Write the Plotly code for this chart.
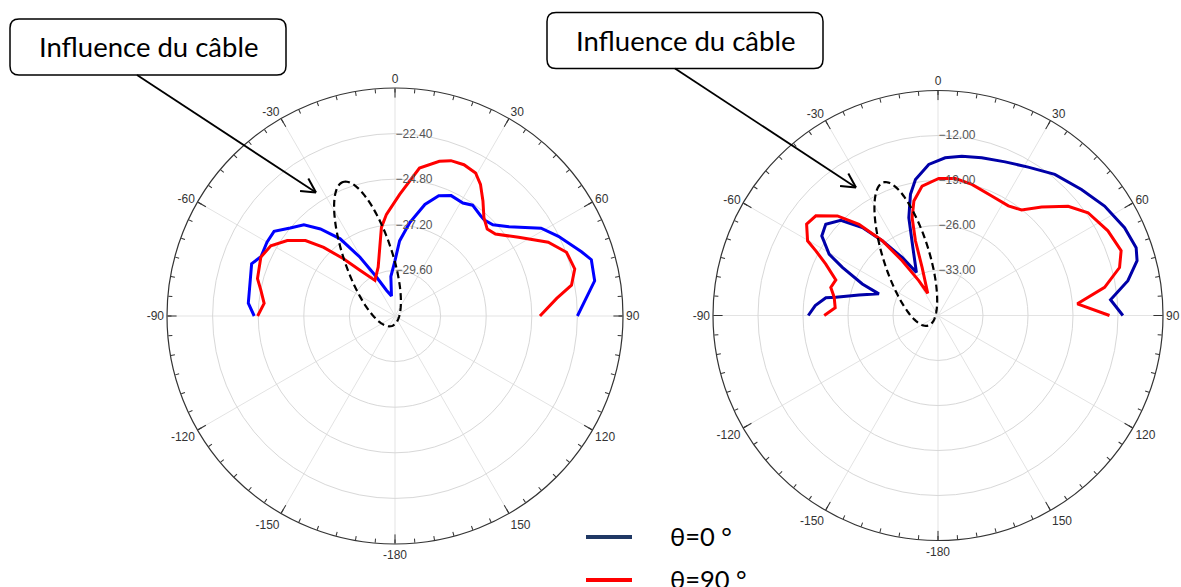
import math
import plotly.graph_objects as go

W, H = 1181, 587

# ---------------- data ----------------
# Left pattern (dB), theta in degrees (0 = top, clockwise)
left_blue_theta = [-90, -85, -76, -70, -66, -60, -55, -50, -45, -40.6, -35.4, -30.8, -25.4, -18.4, -10,
                   -6, 0, 3.5, 9, 15, 20, 25, 31, 35, 40.5, 43, 47, 52, 59, 64, 71, 74, 80, 90]
left_blue_r = [-24.59, -24.25, -24.15, -23.97, -24.29, -24.22, -24.23, -24.80, -25.22, -25.97, -27.02,
               -28.40, -29.73, -30.57, -30.93, -29.91, -29.08, -28.04, -27.02, -25.92, -25.27, -25.01,
               -25.06, -24.88, -25.06, -25.10, -24.96, -24.38, -23.03, -22.43, -21.62, -21.25, -21.33, -22.40]

left_red_theta = [-90, -84.5, -79.1, -74.8, -66.3, -60.5, -55, -49.9, -46.1, -42, -37.5, -29.4,
                  -19, -12.5, -8.7, -4.8, 2.2, 9.4, 16, 19.8, 24.5, 29.4, 33, 37.4, 42.1, 46.7, 50.8,
                  57.5, 64.3, 69.6, 75.3, 80.1, 83.8, 90]
left_red_r = [-24.77, -25.08, -24.81, -24.50, -24.29, -24.49, -25.08, -25.84, -26.79, -27.95, -28.97, -29.85,
              -29.28, -28.30, -27.28, -26.63, -25.59, -24.11, -23.53, -23.31, -23.25, -23.36, -23.74,
              -24.38, -25.02, -25.33, -25.18, -24.29, -23.05, -22.37, -22.22, -22.57, -23.44, -24.37]

# Right pattern (dB)
right_blue_theta = [-90, -85.4, -81, -79.9, -75.4, -69.9, -67.4, -63.3, -60.6, -55.6, -50.9, -45.6, -40.7,
                    -36.7, -31.7, -26.6, -20.3, -16.6, -12.8, -9.4, -3.5, 2.6, 8.5, 15.5, 23.6, 31.3,
                    39.6, 48.7, 56.7, 64.8, 71.1, 74.6, 79.6, 84.8, 90]
right_blue_r = [-19.82, -20.84, -22.34, -23.85, -27.30, -30.21, -27.25, -23.35, -20.56, -18.09, -17.50,
                -18.83, -21.96, -25.50, -29.39, -32.50, -28.73, -24.11, -20.67, -18.54, -16.46, -15.45,
                -14.94, -14.55, -13.92, -12.99, -11.50, -10.30, -9.00, -7.93, -7.42, -7.88, -9.97,
                -13.05, -11.24]

right_red_theta = [-90, -85.7, -80, -75.3, -70.8, -65.4, -62.1, -60.2, -55.2, -50.8, -45.3, -40.9, -36.7,
                   -33.2, -28.9, -24.8, -18.3, -16.8, -14.8, -11.9, -7, 0.3, 7.2, 14.5, 24.2, 32.7, 38.4,
                   43.7, 50, 55.6, 63.5, 70.5, 75.2, 80.4, 85.2, 90]
right_red_r = [-22.30, -23.96, -23.60, -22.76, -23.17, -20.80, -18.50, -16.62, -15.11, -15.48, -17.99,
               -21.23, -25.50, -29.82, -33.81, -36.19, -32.12, -27.86, -24.25, -21.80, -19.71, -18.67,
               -18.50, -18.94, -19.62, -19.74, -19.06, -16.66, -13.58, -11.71, -10.47, -9.78, -10.79,
               -13.72, -18.24, -13.32]

left_rticks = [-29.6, -27.2, -24.8, -22.4]
left_rrange = [-32, -20]
right_rticks = [-33, -26, -19, -12]
right_rrange = [-40, -5]

angle_tickvals = [0, 30, 60, 90, 120, 150, 180, 210, 240, 270, 300, 330]
angle_ticktext = ["0", "30", "60", "90", "120", "150", "-180", "-150", "-120", "-90", "-60", "-30"]
minor_tickvals = list(range(0, 360, 5))

legend_labels = ["θ=0 °", "θ=90 °"]
legend_colors = ["#1F3864", "#FF0000"]
box_text = "Influence du câble"

# ---------------- helpers ----------------
def px(x):
    return x / W


def py(y):
    return 1 - y / H


def dom(cx, cy, rad):
    return dict(x=[px(cx - rad), px(cx + rad)], y=[py(cy + rad), py(cy - rad)])


LEFT = dict(cx=395, cy=316, rad=228)
RIGHT = dict(cx=938, cy=315.5, rad=225)

fig = go.Figure()

fig.add_trace(go.Scatterpolar(theta=left_blue_theta, r=left_blue_r, mode="lines",
                              line=dict(color="#0000FF", width=3), subplot="polar", showlegend=False))
fig.add_trace(go.Scatterpolar(theta=left_red_theta, r=left_red_r, mode="lines",
                              line=dict(color="#FF0000", width=3), subplot="polar", showlegend=False))
fig.add_trace(go.Scatterpolar(theta=right_blue_theta, r=right_blue_r, mode="lines",
                              line=dict(color="#0000A8", width=3), subplot="polar2", showlegend=False))
fig.add_trace(go.Scatterpolar(theta=right_red_theta, r=right_red_r, mode="lines",
                              line=dict(color="#FF0000", width=3), subplot="polar2", showlegend=False))
# empty traces to instantiate the minor-tick overlays
fig.add_trace(go.Scatterpolar(theta=[], r=[], subplot="polar3", showlegend=False))
fig.add_trace(go.Scatterpolar(theta=[], r=[], subplot="polar4", showlegend=False))

tickfont = dict(family="Liberation Sans, Arial, sans-serif", size=12, color="#333333")
rfont = dict(family="Liberation Sans, Arial, sans-serif", size=12, color="#555555")


def main_polar(d, rticks, rrange):
    return dict(
        domain=dom(d["cx"], d["cy"], d["rad"]),
        bgcolor="white",
        angularaxis=dict(direction="clockwise", rotation=90, tickmode="array",
                         tickvals=angle_tickvals, ticktext=angle_ticktext,
                         ticks="inside", ticklen=9, tickcolor="#333333", tickwidth=1,
                         showline=True, linecolor="#333333", linewidth=1.2,
                         showgrid=True, gridcolor="#E3E3E3", gridwidth=1,
                         tickfont=tickfont),
        radialaxis=dict(range=rrange, tickmode="array", tickvals=rticks, tickformat=".2f",
                        angle=90, side="clockwise", tickangle=90, showline=False, ticks="",
                        showgrid=True, gridcolor="#D8D8D8", gridwidth=1, tickfont=rfont),
    )


def minor_polar(d, rrange):
    return dict(
        domain=dom(d["cx"], d["cy"], d["rad"]),
        bgcolor="rgba(0,0,0,0)",
        angularaxis=dict(direction="clockwise", rotation=90, tickmode="array",
                         tickvals=minor_tickvals, ticks="inside", ticklen=4,
                         tickcolor="#333333", tickwidth=1, showticklabels=False,
                         showline=False, showgrid=False),
        radialaxis=dict(range=rrange, visible=False, showgrid=False),
    )


shapes = []
annotations = []


def ellipse_path(cx, cy, a, b, tilt_deg, n=120):
    phi = math.radians(tilt_deg)
    ux, uy = -math.sin(phi), -math.cos(phi)
    vx, vy = math.cos(phi), -math.sin(phi)
    pts = []
    for i in range(n + 1):
        t = 2 * math.pi * i / n
        x = cx + a * math.cos(t) * ux + b * math.sin(t) * vx
        y = cy + a * math.cos(t) * uy + b * math.sin(t) * vy
        pts.append(f"{px(x):.5f},{py(y):.5f}")
    return "M " + " L ".join(pts) + " Z"


def rounded_box(x0, y0, x1, y1, r):
    p = (f"M {px(x0 + r)},{py(y0)} L {px(x1 - r)},{py(y0)} Q {px(x1)},{py(y0)} {px(x1)},{py(y0 + r)} "
         f"L {px(x1)},{py(y1 - r)} Q {px(x1)},{py(y1)} {px(x1 - r)},{py(y1)} "
         f"L {px(x0 + r)},{py(y1)} Q {px(x0)},{py(y1)} {px(x0)},{py(y1 - r)} "
         f"L {px(x0)},{py(y0 + r)} Q {px(x0)},{py(y0)} {px(x0 + r)},{py(y0)} Z")
    return p


def arrow(x0, y0, x1, y1, head=16, spread=28):
    ang = math.atan2(y1 - y0, x1 - x0)
    segs = [dict(type="line", xref="paper", yref="paper", x0=px(x0), y0=py(y0), x1=px(x1), y1=py(y1),
                 line=dict(color="black", width=1.8))]
    for s in (-1, 1):
        a2 = ang + math.pi + s * math.radians(spread)
        segs.append(dict(type="line", xref="paper", yref="paper", x0=px(x1), y0=py(y1),
                         x1=px(x1 + head * math.cos(a2)), y1=py(y1 + head * math.sin(a2)),
                         line=dict(color="black", width=2)))
    return segs


callouts = [
    dict(box=(10, 19, 286, 75), arrow=(137, 75, 316, 192.5), ell=(367.5, 254, 76, 24, 18.8)),
    dict(box=(547, 12.5, 823, 68.5), arrow=(675, 68.5, 856, 187.5), ell=(905.8, 254, 75, 23, 17.4)),
]
for c in callouts:
    x0, y0, x1, y1 = c["box"]
    shapes.append(dict(type="path", xref="paper", yref="paper", path=rounded_box(x0, y0, x1, y1, 9),
                       line=dict(color="black", width=1.5), fillcolor="white"))
    annotations.append(dict(x=px((x0 + x1) / 2), y=py((y0 + y1) / 2), xref="paper", yref="paper",
                            text=box_text, showarrow=False, xanchor="center", yanchor="middle",
                            font=dict(family="Lato, sans-serif", size=27.5, color="black")))
    shapes.extend(arrow(*c["arrow"]))
    shapes.append(dict(type="path", xref="paper", yref="paper", path=ellipse_path(*c["ell"]),
                       line=dict(color="black", width=2.2, dash="7px,4px")))

# legend drawn manually
leg_y = [537, 580]
for lbl, col, yy in zip(legend_labels, legend_colors, leg_y):
    shapes.append(dict(type="line", xref="paper", yref="paper", x0=px(586), x1=px(632), y0=py(yy), y1=py(yy),
                       line=dict(color=col, width=4)))
    annotations.append(dict(x=px(668), y=py(yy - 1), xref="paper", yref="paper", text=lbl, showarrow=False,
                            xanchor="left", yanchor="middle",
                            font=dict(family="Lato, sans-serif", size=25.5, color="black")))

fig.update_layout(
    width=W, height=H,
    margin=dict(l=0, r=0, t=0, b=0),
    paper_bgcolor="white",
    showlegend=False,
    polar=main_polar(LEFT, left_rticks, left_rrange),
    polar2=main_polar(RIGHT, right_rticks, right_rrange),
    polar3=minor_polar(LEFT, left_rrange),
    polar4=minor_polar(RIGHT, right_rrange),
    shapes=shapes,
    annotations=annotations,
)

fig.write_html("out.html", config={"displayModeBar": False},
               post_script="document.body.style.margin='0';document.body.style.overflow='hidden';")
